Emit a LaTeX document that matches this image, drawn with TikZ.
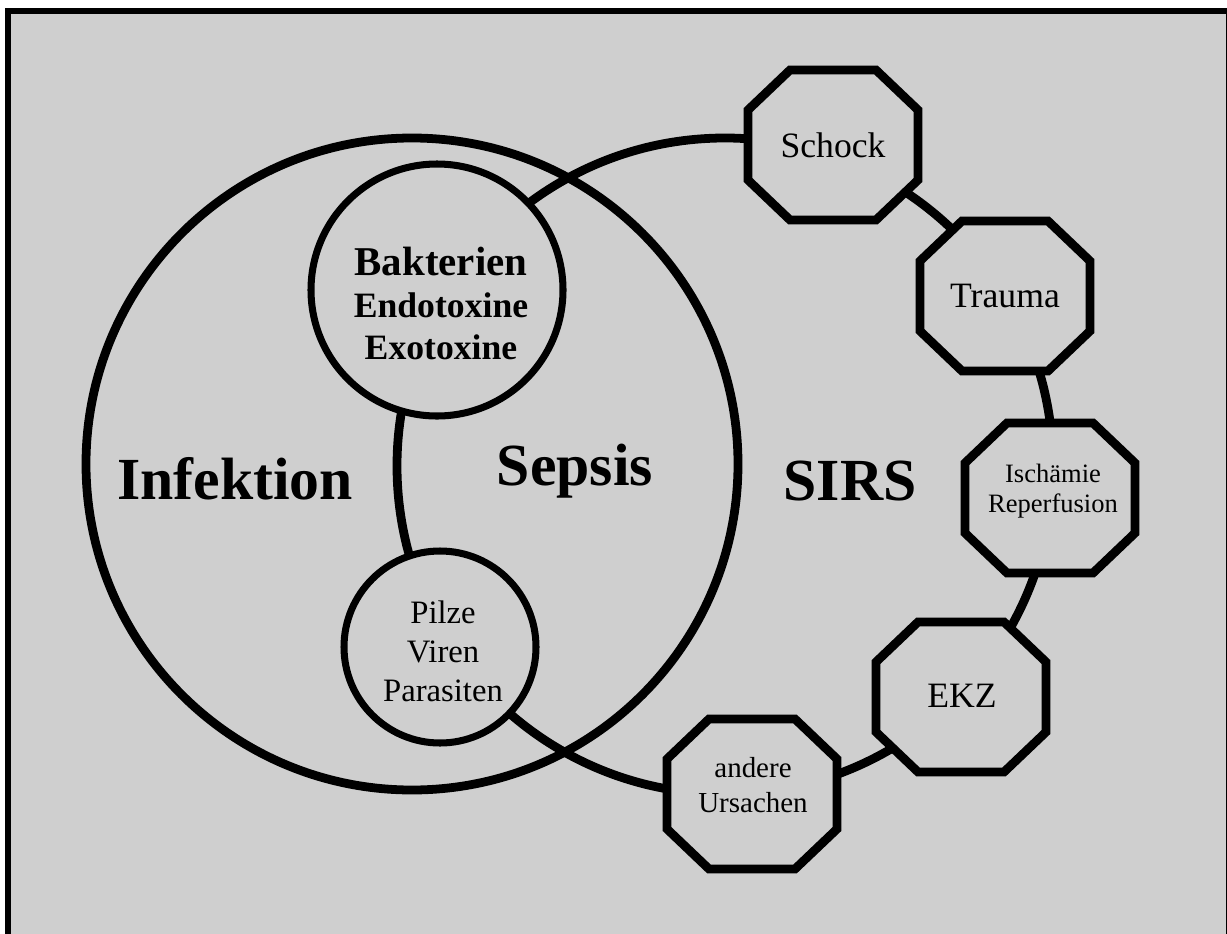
\documentclass[tikz,border=0pt]{standalone}
\usepackage{fontspec}
\setmainfont{Liberation Serif}
\definecolor{bggray}{RGB}{207,207,207}
\tikzset{
  ring/.style={draw=black, line width=5pt},
  cell/.style={draw=black, fill=bggray, line width=4pt},
  octline/.style={draw=black, fill=bggray, line width=5pt, line join=miter},
  bigword/.style={font=\fontsize{34}{40}\selectfont\bfseries, inner sep=0pt, anchor=base},
  octword/.style={font=\fontsize{20.3}{24}\selectfont, inner sep=0pt},
}
\begin{document}
\begin{tikzpicture}[x=0.02cm, y=-0.02cm]
  \useasboundingbox (0,0) rectangle (1227,933);
  \fill[white] (0,0) rectangle (1227,933);
  \begin{scope}
    \clip (0,0) rectangle (1227,933);
    \filldraw[fill=bggray, draw=black, line width=3.4pt] (8,11) rectangle (1229,940);
  \end{scope}
  % Infektion and SIRS
  \draw[ring] (412,464) circle (326);
  \draw[ring] (725,466) circle (328);
  % Erreger
  \filldraw[cell] (437,290) circle (126);
  \filldraw[cell] (440,647) circle (96);
  % Ursachen des SIRS
  \foreach \cx/\cy in {833/145, 1005/296, 1050/498, 961/697, 752/794}
    \filldraw[octline, shift={(\cx,\cy)}] (-43,-75) -- (43,-75) -- (85,-35) -- (85,35)
      -- (43,75) -- (-43,75) -- (-85,35) -- (-85,-35) -- cycle;
  % labels
  \node[bigword] (infektion) at (235,499) {Infektion};
  \node[bigword] (sepsis) at (575,485) {Sepsis};
  \node[bigword] (sirs) at (850,500) {SIRS};
  \node[align=center, inner sep=0pt, font=\fontsize{20.3}{23.9}\selectfont\bfseries] (bakterien) at (441,303)
    {{\fontsize{23.3}{23.9}\selectfont Bakterien}\\Endotoxine\\Exotoxine};
  \node[align=center, inner sep=0pt, font=\fontsize{18.6}{22.2}\selectfont] (pilze) at (443,651)
    {Pilze\\Viren\\Parasiten};
  \node[octword, anchor=base] (schock) at (833,157) {Schock};
  \node[octword, anchor=base] (trauma) at (1005,307) {Trauma};
  \node[align=center, inner sep=0pt, font=\fontsize{15.1}{17.1}\selectfont] (ischaemie) at (1053,491)
    {Ischämie\\Reperfusion};
  \node[octword, anchor=base] (ekz) at (962,707) {EKZ};
  \node[align=center, inner sep=0pt, font=\fontsize{16.5}{19.9}\selectfont] (andere) at (753,785.5)
    {andere\\Ursachen};
\end{tikzpicture}
\end{document}
